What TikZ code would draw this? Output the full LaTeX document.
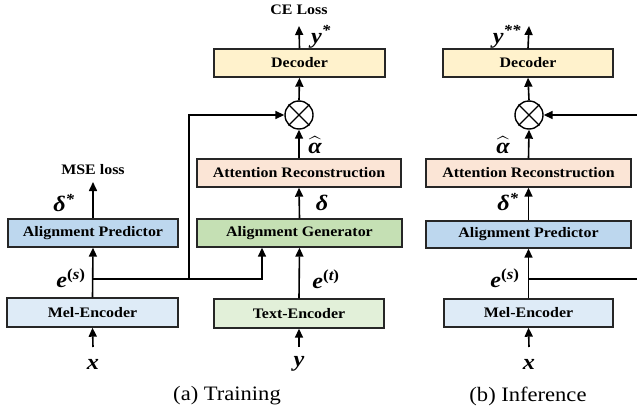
\documentclass[tikz,border=0pt]{standalone}
\usepackage{amsmath}
\usepackage{fontspec}
\setmainfont{Liberation Serif}[FakeStretch=1.1]
\usetikzlibrary{arrows.meta}
\definecolor{cDec}{HTML}{FFF2CC}
\definecolor{cAR}{HTML}{FBE5D6}
\definecolor{cAP}{HTML}{BDD7EE}
\definecolor{cAG}{HTML}{C5E0B4}
\definecolor{cME}{HTML}{DEEBF7}
\definecolor{cTE}{HTML}{E2F0D9}
\newcommand{\pars}[1]{\textsuperscript{\upshape(\itshape #1\upshape)}}
\tikzset{
  box/.style={draw=black!85, line width=1.4pt, inner sep=0pt, minimum height=28pt,
    font=\fontsize{14.5}{16}\selectfont\bfseries},
  arr/.style={line width=1.6pt, -{Triangle[length=9pt,width=8pt]}},
  ln/.style={line width=1.6pt},
  lbl/.style={inner sep=0pt, font=\fontsize{22}{24}\selectfont\bfseries\itshape},
  losstxt/.style={inner sep=0pt, font=\fontsize{14.5}{16}\selectfont\bfseries},
  captxt/.style={inner sep=0pt, font=\fontsize{20.5}{22}\selectfont},
  otimes/.style={draw, circle, line width=1.4pt, minimum size=28pt, inner sep=0pt},
}
\begin{document}
\begin{tikzpicture}[x=1pt,y=-1pt]
\useasboundingbox (0,0) rectangle (637,415);
% ---------- (a) Training ----------
\node[box, fill=cDec, minimum width=171pt] (decA) at (299.5,63) {Decoder};
\node[box, fill=cAR, minimum width=204pt] (arA) at (299,173) {Attention Reconstruction};
\node[box, fill=cAP, minimum width=170pt] (apA) at (93,233) {Alignment Predictor};
\node[box, fill=cAG, minimum width=205pt] (agA) at (299.5,233) {Alignment Generator};
\node[box, fill=cME, minimum width=171pt, minimum height=29pt] (meA) at (92.5,312.5) {Mel-Encoder};
\node[box, fill=cTE, minimum width=170pt, minimum height=29pt] (teA) at (299,313.5) {Text-Encoder};
\node[otimes] (otA) at (299,115) {};
\draw[line width=1.4pt] (otA.45) -- (otA.225) (otA.135) -- (otA.315);

\node[lbl] (xA) at (93,364) {x};
\node[lbl] (yA) at (299,364) {y};
\node[losstxt] (mseA) at (93,170) {MSE loss};
\node[losstxt] (ceA) at (299,10) {CE Loss};
\coordinate (ceAt) at (299,26);
\coordinate (mseAt) at (93,182);
\coordinate (xAt) at (93,347);
\coordinate (yAt) at (299,347);
\coordinate (jA) at (93,279);
\coordinate (fA) at (189,279);

\draw[arr] (xAt) -- (meA.south);
\draw[arr] (yAt) -- (teA.south);
\draw[arr] (meA.north) -- (apA.south);
\draw[arr] (apA.north) -- (mseAt);
\draw[arr] (jA) -| ([xshift=-37.5pt]agA.south);
\draw[arr] (fA) |- (otA.west);
\draw[arr] (teA.north) -- (agA.south);
\draw[arr] (agA.north) -- (arA.south);
\draw[arr] (arA.north) -- (otA.south);
\draw[arr] (otA.north) -- (decA.south);
\draw[arr] (decA.north) -- (ceAt);

\node[lbl] at (64,203) {δ\textsuperscript{*}};
\node[lbl] at (71,278) {e\pars{s}};
\node[lbl] at (322,203) {δ};
\node[lbl] at (326,279) {e\pars{t}};
\node[lbl] at (315,145) {$\widehat{\text{α}}$};
\node[lbl] at (321,37) {y\textsuperscript{*}};
\node[captxt] (capA) at (227,396) {(a) Training};

% ---------- (b) Inference ----------
\node[box, fill=cDec, minimum width=170pt] (decB) at (528,63) {Decoder};
\node[box, fill=cAR, minimum width=205pt] (arB) at (528.5,173) {Attention Reconstruction};
\node[box, fill=cAP, minimum width=205pt, minimum height=27pt] (apB) at (528.5,234.5) {Alignment Predictor};
\node[box, fill=cME, minimum width=169pt] (meB) at (528.5,313) {Mel-Encoder};
\node[otimes] (otB) at (529,115) {};
\draw[line width=1.4pt] (otB.45) -- (otB.225) (otB.135) -- (otB.315);

\node[lbl] (xB) at (529,364) {x};
\coordinate (xBt) at (529,347);
\coordinate (jB) at (529,279);
\coordinate (eB) at (637,279);
\coordinate (rB) at (637,115);
\coordinate (outB) at (529,26);

\draw[arr] (xBt) -- (meB.south);
\draw[arr] (meB.north) -- (apB.south);
\draw[ln] (jB) -- (eB);
\draw[arr] (apB.north) -- (arB.south);
\draw[arr] (arB.north) -- (otB.south);
\draw[arr] (otB.north) -- (decB.south);
\draw[arr] (decB.north) -- (outB);
\draw[arr] (rB) -- (otB.east);

\node[lbl] at (507,37) {y\textsuperscript{**}};
\node[lbl] at (503,145) {$\widehat{\text{α}}$};
\node[lbl] at (508,202) {δ\textsuperscript{*}};
\node[lbl] at (505,278) {e\pars{s}};
\node[captxt] (capB) at (528,396) {(b) Inference};
\end{tikzpicture}
\end{document}
